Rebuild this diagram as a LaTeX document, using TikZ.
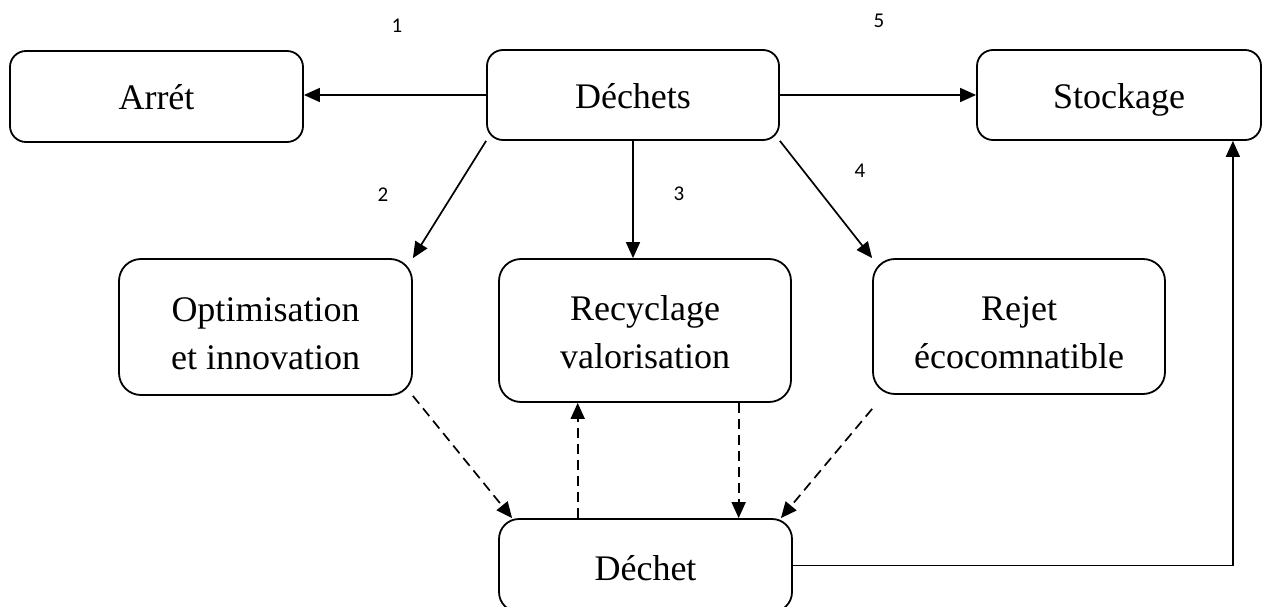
\documentclass[tikz,border=0pt]{standalone}
\usepackage{fontspec}
\setmainfont{Liberation Serif}
\newfontfamily\numfont{Carlito}
\usetikzlibrary{arrows.meta,calc}
\begin{document}
\begin{tikzpicture}[x=1pt,y=-1pt,
  box/.style={draw,line width=1.8pt,rounded corners=#1,align=center,
    font=\fontsize{36}{48}\selectfont,inner sep=0pt},
  box/.default=16pt,
  one/.style={text height=30pt,text depth=3pt},
  conn/.style={line width=1.7pt,-{Triangle[length=16pt,width=14pt]}},
  dconn/.style={conn,dash pattern=on 10pt off 6pt},
  num/.style={font=\numfont\fontsize{21}{24}\selectfont,inner sep=0pt}]
\useasboundingbox (0,0) rectangle (1263,607);
\node[box,one,minimum width=293pt,minimum height=91pt] (arret) at (156.5,96.5) {Arrét};
\node[box,one,minimum width=292pt,minimum height=90pt] (dechets) at (633,95) {Déchets};
\node[box,one,minimum width=284pt,minimum height=90pt] (stock) at (1119,95) {Stockage};
\node[box=22pt,text height=90pt,text depth=6pt,minimum width=293pt,minimum height=136pt] (optim) at (265.5,327) {Optimisation\\et innovation};
\node[box=22pt,text height=82pt,text depth=7pt,minimum width=292pt,minimum height=143pt] (recyc) at (645,330.5) {Recyclage\\valorisation};
\node[box=22pt,text height=89pt,text depth=6pt,minimum width=292pt,minimum height=135pt] (rejet) at (1019,326.5) {Rejet\\écocomnatible};
\node[box=20pt,text height=32pt,text depth=2pt,minimum width=293pt,minimum height=93pt] (dechet) at (645.5,565.5) {Déchet};
\node[num] (n1) at (397,26) {1};
\node[num] (n5) at (879,21) {5};
\node[num] (n2) at (383,195) {2};
\node[num] (n3) at (679,194) {3};
\node[num] (n4) at (860,171) {4};
\draw[conn] (dechets.west) -- (dechets.west -| arret.east);
\draw[conn] (dechets.east) -- (dechets.east -| stock.west);
\draw[conn] (dechets.south west) -- (optim.north east);
\draw[conn] (dechets.south) -- (dechets.south |- recyc.north);
\draw[conn] (dechets.south east) -- (rejet.north west);
\draw[dconn] (optim.south east) -- ([xshift=14pt]dechet.north west);
\coordinate (up) at ($(dechet.north west)!0.27!(dechet.north east)$);
\coordinate (dn) at ($(dechet.north west)!0.816!(dechet.north east)$);
\draw[dconn] (up) -- (up |- recyc.south);
\draw[dconn] (dn |- recyc.south) -- (dn);
\draw[dconn] ([yshift=-14pt]rejet.south west) -- ([xshift=-12pt]dechet.north east);
\draw[conn] (dechet.east) -| ([xshift=-29pt]stock.south east);
\end{tikzpicture}
\end{document}
